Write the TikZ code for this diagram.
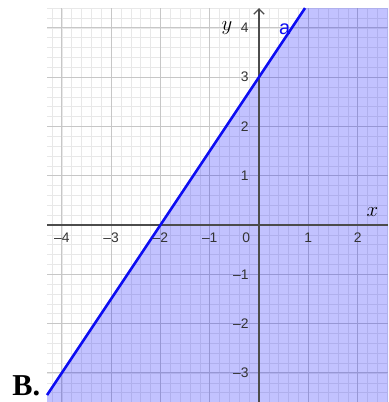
\documentclass[tikz,border=0pt]{standalone}
\usepackage{fontspec}
\usetikzlibrary{arrows.meta}
\newfontfamily\tickfont{Liberation Sans}
\newfontfamily\labelfont{Liberation Serif}
\definecolor{LineClr}{rgb}{0.05,0.05,0.95}

\begin{document}
\begin{tikzpicture}[x=1cm,y=1cm,
  minorgrid/.style={line width=0.3pt,color=black!9},
  majorgrid/.style={line width=0.6pt,color=black!22},
  axisline/.style={line width=0.7pt,color=black!70},
  ticklabel/.style={font=\tickfont\fontsize{8}{9}\selectfont,text=black!80,inner sep=1pt}]
\useasboundingbox (-5.254,-3.59) rectangle (2.62,4.564);

% window of the graph
\coordinate (SW) at (-4.30,-3.59);
\coordinate (SE) at (2.62,-3.59);
\coordinate (NE) at (2.62,4.40);
\coordinate (O) at (0,0);

% line a : y = 3x/2 + 3
\coordinate (P) at (-4.30,-3.45);
\coordinate (Q) at (0.933,4.40);

\draw[minorgrid,step=0.2] (SW) grid (NE);
\draw[majorgrid,step=1] (SW) grid (NE);

\fill[blue,opacity=0.24] (P) -- (Q) -- (NE) -- (SE) -- (SW) -- cycle;

\draw[axisline] (-4.30,0) -- (2.62,0);
\draw[axisline,-{Straight Barb[length=3pt,width=6pt]}] (0,-3.59) -- (0,4.40);

\node[font=\tickfont\fontsize{11.5}{13}\selectfont,text=LineClr] (alab) at (0.52,3.98) {a};
\draw[LineClr,line width=1.5pt] (P) -- (Q);

\foreach \i in {1,...,4}
  \node[ticklabel,anchor=north] at (-\i,-0.12) {\textendash\i};
\foreach \i in {1,2}
  \node[ticklabel,anchor=north] at (\i,-0.12) {\i};
\foreach \i in {1,...,4}
  \node[ticklabel,anchor=east] at (-0.17,\i) {\i};
\foreach \i in {1,2,3}
  \node[ticklabel,anchor=east] at (-0.17,-\i) {\textendash\i};
\node[ticklabel] (zero) at (-0.26,-0.26) {0};

\node[font=\large] (ylab) at (-0.65,4.0) {$y$};
\node[font=\large] (xlab) at (2.3,0.26) {$x$};

\node[font=\labelfont\bfseries\fontsize{17.5}{19}\selectfont,inner sep=0pt] (choice) at (-4.72,-3.27) {B.};

\end{tikzpicture}
\end{document}
